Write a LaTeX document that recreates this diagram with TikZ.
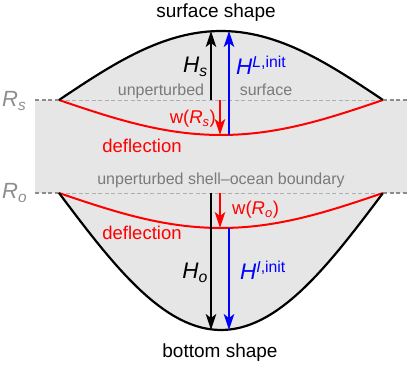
\documentclass[tikz,border=0pt]{standalone}
\usepackage{fontspec}
\setmainfont{Liberation Sans}
\usetikzlibrary{arrows.meta}
\definecolor{shellgray}{HTML}{E6E6E6}
\definecolor{linegray}{HTML}{8C8C8C}
\definecolor{textgray}{HTML}{7A7A7A}
\definecolor{pureblue}{HTML}{0000FF}
\definecolor{purered}{HTML}{FF0000}
\tikzset{
  fs/.style={font=\fontsize{#1}{#1}\selectfont},
  tip/.style={-{Stealth[length=16pt,width=10.5pt,inset=4pt]}},
  shape line/.style={line width=2.2pt, black},
  defl line/.style={line width=2pt, purered},
  harrow/.style={tip, line width=1.5pt},
  dashout/.style={linegray, line width=1.6pt, dash pattern=on 4pt off 2.5pt},
  dashin/.style={linegray!70, line width=0.9pt, dash pattern=on 4pt off 2.5pt},
  lab/.style={inner sep=0pt, anchor=base},
}
\begin{document}
\begin{tikzpicture}[x=1pt,y=-1pt]
\path[use as bounding box, fill=white] (0,0) rectangle (415,387);
% coordinates
\coordinate (sL) at (59,100);
\coordinate (sR) at (383,100);
\coordinate (oL) at (59,193);
\coordinate (oR) at (383,193);
% fills
\fill[shellgray] (35,100) rectangle (407,193);
\fill[shellgray] plot[domain=-0.5:0.5, samples=60] ({221+324*\x},{100-69*cos(180*\x)}) -- cycle;
\fill[shellgray] plot[domain=-0.5:0.5, samples=60] ({221+324*\x},{193+137*cos(180*\x)}) -- cycle;
% dashed reference lines
\draw[dashin] (sL) -- (sR);
\draw[dashin] (oL) -- (oR);
\draw[dashout] (35,100) -- (sL);
\draw[dashout] (sR) -- (407,100);
\draw[dashout] (35,193) -- (oL);
\draw[dashout] (oR) -- (407,193);
% deflection curves
\draw[defl line] plot[domain=-0.5:0.5, samples=60] ({221+324*\x},{100+35*cos(180*\x)});
\draw[defl line] plot[domain=-0.5:0.5, samples=60] ({221+324*\x},{193+35*cos(180*\x)});
% shapes
\draw[shape line] plot[domain=-0.5:0.5, samples=60] ({221+324*\x},{100-69*cos(180*\x)});
\draw[shape line] plot[domain=-0.5:0.5, samples=60] ({221+324*\x},{193+137*cos(180*\x)});
% arrow end points
\coordinate (hsB) at (211,100);
\coordinate (hsT) at (211,31);
\coordinate (hlB) at (229,135);
\coordinate (hlT) at (229,31);
\coordinate (wsT) at (220,100);
\coordinate (wsB) at (220,135);
\coordinate (hoT) at (211,193);
\coordinate (hoB) at (211,330);
\coordinate (hiT) at (229,228);
\coordinate (hiB) at (229,330);
\coordinate (woT) at (220,193);
\coordinate (woB) at (220,228);
% arrows
\draw[harrow, black] (hsB) -- (hsT);
\draw[harrow, pureblue] (hlB) -- (hlT);
\draw[harrow, purered] (wsT) -- (wsB);
\draw[harrow, black] (hoT) -- (hoB);
\draw[harrow, pureblue] (hiT) -- (hiB);
\draw[harrow, purered] (woT) -- (woB);
% labels
\node[lab, fs=19] (tsurf) at (216,18) {surface shape};
\node[lab, fs=19] (tbot) at (220,357) {bottom shape};
\node[lab, fs=16, textgray] (tunp) at (161,96) {unperturbed};
\node[lab, fs=16, textgray] (tsrf) at (266,96) {surface};
\node[lab, fs=16, textgray] (tbnd) at (221,185) {unperturbed shell–ocean boundary};
\node[lab, fs=18.5, purered] (tdef1) at (142,153) {deflection};
\node[lab, fs=18.5, purered] (tdef2) at (142,240) {deflection};
\node[lab, anchor=base east, fs=18.5, purered] (tws) at (216,124) {w(\textit{R}\textsubscript{\textit{s}})};
\node[lab, anchor=base west, fs=18.5, purered] (two) at (232,215) {w(\textit{R}\textsubscript{\textit{o}})};
\node[lab, anchor=base east, fs=22.5] (ths) at (208,73) {\textit{H}\textsubscript{\textit{s}}};
\node[lab, anchor=base east, fs=22.5] (tho) at (208,279) {\textit{H}\textsubscript{\textit{o}}};
\node[lab, anchor=base west, fs=22.5, pureblue] (thl) at (236,75) {\textit{H}\textsuperscript{\textit{L},init}};
\node[lab, anchor=base west, fs=22.5, pureblue] (thi) at (240,280) {\textit{H}\textsuperscript{\textit{I},init}};
\node[lab, anchor=base west, fs=22, textgray!85] (trs) at (2,107) {\textit{R}\textsubscript{\textit{s}}};
\node[lab, anchor=base west, fs=22, textgray!85] (tro) at (2,199) {\textit{R}\textsubscript{\textit{o}}};
\end{tikzpicture}
\end{document}
